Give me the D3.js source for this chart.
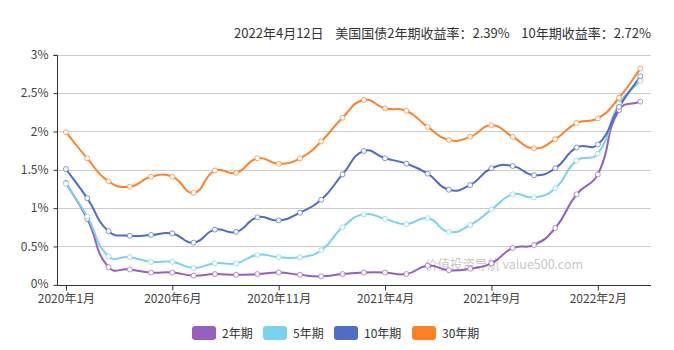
<!DOCTYPE html>
<html>
<head>
<meta charset="utf-8">
<script src="https://cdn.jsdelivr.net/npm/d3@7/dist/d3.min.js"></script>
<style>
  html, body { margin: 0; padding: 0; background: #fff; }
  svg { display: block; font-family: "Microsoft YaHei", "Noto Sans CJK SC", "Noto Sans", sans-serif; }
  text { white-space: pre; }
</style>
</head>
<body>
<svg id="chart" width="674" height="350"></svg>
<script>
// ---- data ----
const months = [
  "2020年1月","2020年2月","2020年3月","2020年4月","2020年5月","2020年6月","2020年7月",
  "2020年8月","2020年9月","2020年10月","2020年11月","2020年12月","2021年1月","2021年2月",
  "2021年3月","2021年4月","2021年5月","2021年6月","2021年7月","2021年8月","2021年9月",
  "2021年10月","2021年11月","2021年12月","2022年1月","2022年2月","2022年3月","2022年4月"
];
const yield2y  = [1.33,0.86,0.23,0.20,0.16,0.16,0.12,0.14,0.13,0.14,0.16,0.13,0.11,0.14,0.16,0.16,0.14,0.25,0.19,0.21,0.28,0.48,0.52,0.74,1.18,1.44,2.28,2.39];
const yield5y  = [1.32,0.89,0.37,0.36,0.30,0.30,0.22,0.28,0.28,0.39,0.36,0.36,0.45,0.75,0.92,0.86,0.79,0.87,0.69,0.78,0.98,1.18,1.14,1.26,1.62,1.71,2.36,2.66];
const yield10y = [1.51,1.13,0.70,0.64,0.65,0.67,0.55,0.72,0.69,0.88,0.84,0.94,1.11,1.44,1.745,1.65,1.58,1.45,1.24,1.30,1.52,1.55,1.43,1.52,1.79,1.83,2.32,2.72];
const yield30y = [1.99,1.65,1.35,1.28,1.41,1.41,1.20,1.49,1.46,1.65,1.58,1.65,1.87,2.18,2.41,2.30,2.27,2.06,1.89,1.93,2.08,1.93,1.78,1.90,2.11,2.17,2.44,2.82];
const seriesNames = ["2年期","5年期","10年期","30年期"];
const seriesColors = ["#9560bd","#7bd2ec","#506cc5","#ff8125"];
const yTicks = [0,0.5,1,1.5,2,2.5,3];
const xTickIdx = [0,5,10,15,20,25];
const titleText = "2022年4月12日    美国国债2年期收益率：2.39%    10年期收益率：2.72%";
const watermark = "价值投资导航 value500.com";

const series = [yield2y, yield5y, yield10y, yield30y];

// ---- layout ----
const svg = d3.select("#chart");
const pL = 57, pR = 651, pT = 54.8, pB = 284.8;

const x = d3.scaleLinear().domain([-0.42, 27.5]).range([pL, pR]);
const y = d3.scaleLinear().domain([0, 3]).range([pB, pT]);

// grid
svg.append("g").selectAll("line").data(yTicks.filter(d => d > 0)).join("line")
  .attr("x1", pL).attr("x2", pR)
  .attr("y1", d => Math.round(y(d)) + 0.5).attr("y2", d => Math.round(y(d)) + 0.5)
  .attr("stroke", "#cccccc").attr("stroke-width", 1);

// y axis
const yAxis = svg.append("g").attr("transform", `translate(${pL + 0.5},0)`)
  .call(d3.axisLeft(y).tickValues(yTicks).tickSize(4).tickPadding(5).tickFormat(d => d + "%"));
yAxis.select(".domain").attr("stroke", "#333").attr("d", `M-4,${Math.round(pT)+0.5}H0V${Math.round(pB)+0.5}`);
yAxis.selectAll(".tick line").attr("stroke", "#333");
yAxis.selectAll(".tick text").attr("fill", "#444").attr("font-size", 12).attr("font-family", "Microsoft YaHei, Noto Sans CJK SC, sans-serif");
yAxis.selectAll(".tick text").filter(d => d === 0).attr("dy", "0.2em");

// x axis
const xAxis = svg.append("g").attr("transform", `translate(0,${Math.round(pB) + 0.5})`)
  .call(d3.axisBottom(x).tickValues(xTickIdx).tickSize(5).tickPadding(4).tickFormat(i => months[i]));
xAxis.select(".domain").attr("stroke", "#333").attr("d", `M${pL},0H${pR}`);
xAxis.selectAll(".tick line").attr("stroke", "#333");
xAxis.selectAll(".tick text").attr("fill", "#444").attr("font-size", 12).attr("font-family", "Microsoft YaHei, Noto Sans CJK SC, sans-serif");

// watermark
svg.append("text").attr("x", 425).attr("y", 269).text(watermark)
  .attr("font-size", 13).attr("textLength", 158).attr("lengthAdjust", "spacingAndGlyphs")
  .attr("fill", "#bbbbbb").attr("fill-opacity", 0.85);

// ECharts-like smooth path
function smoothPath(pts, smooth) {
  const p = d3.path();
  const n = pts.length;
  const cps = pts.map((cur, i) => {
    const prev = pts[i - 1] || cur, next = pts[i + 1] || cur;
    const vx = next[0] - prev[0], vy = next[1] - prev[1];
    let l0 = Math.hypot(cur[0] - prev[0], cur[1] - prev[1]);
    let l1 = Math.hypot(cur[0] - next[0], cur[1] - next[1]);
    const s = l0 + l1;
    if (s) { l0 /= s; l1 /= s; }
    return {
      c0: [cur[0] - vx * smooth * l0, cur[1] - vy * smooth * l0],
      c1: [cur[0] + vx * smooth * l1, cur[1] + vy * smooth * l1]
    };
  });
  p.moveTo(pts[0][0], pts[0][1]);
  for (let i = 1; i < n; i++) {
    p.bezierCurveTo(cps[i-1].c1[0], cps[i-1].c1[1], cps[i].c0[0], cps[i].c0[1], pts[i][0], pts[i][1]);
  }
  return p.toString();
}

// lines
series.forEach((vals, si) => {
  const pts = vals.map((v, i) => [x(i), y(v)]);
  svg.append("path").attr("d", smoothPath(pts, 0.5))
    .attr("fill", "none").attr("stroke", seriesColors[si]).attr("stroke-width", 2)
    .attr("stroke-linejoin", "round");
});
series.forEach((vals, si) => {
  svg.append("g").selectAll("circle").data(vals).join("circle")
    .attr("cx", (d, i) => x(i)).attr("cy", d => y(d)).attr("r", 2.5)
    .attr("fill", "#fff").attr("stroke", seriesColors[si]).attr("stroke-opacity", 0.7).attr("stroke-width", 1);
});

// title
svg.append("text").attr("x", 651).attr("y", 38).attr("text-anchor", "end")
  .attr("font-size", 13).attr("fill", "#333").text(titleText);

// legend
const legendX = [192, 263, 334, 412];
const lg = svg.append("g").selectAll("g").data(seriesNames).join("g")
  .attr("transform", (d, i) => `translate(${legendX[i]},326)`);
lg.append("rect").attr("width", 24).attr("height", 14).attr("rx", 3)
  .attr("fill", (d, i) => seriesColors[i]);
lg.append("text").attr("x", 30).attr("y", 11.5).attr("font-size", 12).attr("fill", "#333").text(d => d);
</script>
</body>
</html>
